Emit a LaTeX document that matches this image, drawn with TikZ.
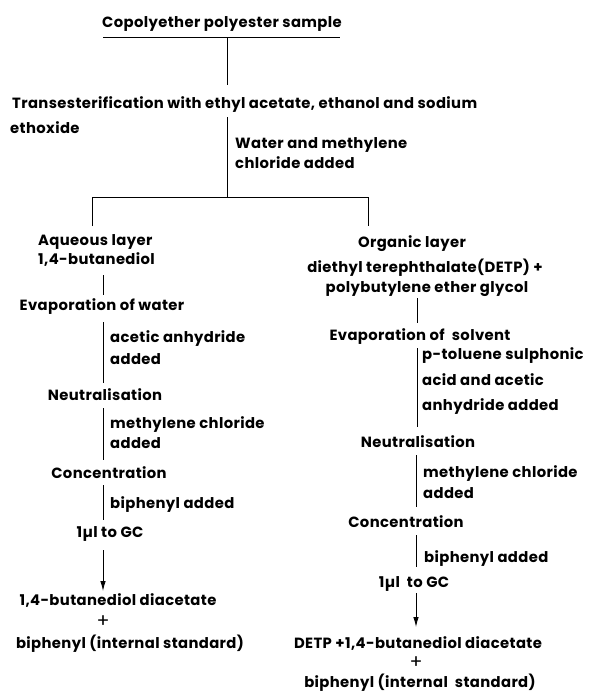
\documentclass[tikz,border=0pt]{standalone}
\usepackage{fontspec}
\setmainfont{Poppins}[LetterSpace=2.5]
\usetikzlibrary{arrows.meta}
\tikzset{
  lbl/.style={inner sep=0pt, yshift=-3pt, font=\fontsize{14.8}{17}\selectfont\bfseries},
  txt/.style={lbl, anchor=mid west},
  ctxt/.style={lbl, anchor=mid},
  plus/.style={inner sep=0pt, anchor=center, font=\fontsize{19}{20}\selectfont},
  link/.style={line width=0.9pt},
  arr/.style={line width=0.9pt, -{Latex[length=10pt,width=5.5pt]}}
}
\begin{document}
\begin{tikzpicture}[x=1pt,y=-1pt]
\useasboundingbox (0,0) rectangle (590,699);
% top
\node[ctxt] (title) at (222,22) {Copolyether polyester sample};
\node[txt] (trans1) at (12,103) {Transesterification with ethyl acetate, ethanol and sodium};
\node[txt] (trans2) at (10,128) {ethoxide};
\node[txt] (water1) at (235,143) {Water and methylene};
\node[txt] (water2) at (235,163) {chloride added};
\coordinate (ulL) at (103,37);
\coordinate (ulR) at (340,37);
\coordinate (t0) at (227,37);
\coordinate (t1) at (227,85);
\coordinate (t2) at (227,117);
\coordinate (split) at (227,197);
\coordinate (sL) at (92,197);
\coordinate (sR) at (368,197);
\coordinate (dL) at (92,226);
\coordinate (dR) at (368,226);
\draw[link] (ulL) -- (ulR);
\draw[link] (t0) -- (t1);
\draw[link] (t2) -- (split);
\draw[link] (dL) -- (sL) -- (sR) -- (dR);
% left column
\node[txt] (aq1) at (38,240) {Aqueous layer};
\node[txt] (aq2) at (38,259) {1,4-butanediol};
\node[ctxt] (evL) at (102,305) {Evaporation of water};
\node[txt] (ac1) at (110,337) {acetic anhydride};
\node[txt] (ac2) at (110,359) {added};
\node[ctxt] (neL) at (105,395) {Neutralisation};
\node[txt] (mcL1) at (110,423) {methylene chloride};
\node[txt] (mcL2) at (110,443) {added};
\node[ctxt] (coL) at (109,473) {Concentration};
\node[txt] (biL) at (110,503) {biphenyl added};
\node[ctxt] (gcL) at (110,532) {1µl to GC};
\node[ctxt] (prL1) at (118,600) {1,4-butanediol diacetate};
\node[plus] (plL) at (103,622) {+};
\node[ctxt] (prL2) at (130,643) {biphenyl (internal standard)};
\coordinate (L1a) at (103,275); \coordinate (L1b) at (103,295);
\coordinate (L2a) at (103,322); \coordinate (L2b) at (103,383);
\coordinate (L3a) at (103,408); \coordinate (L3b) at (103,460);
\coordinate (L4a) at (103,485); \coordinate (L4b) at (103,520);
\coordinate (L5a) at (103,550); \coordinate (L5b) at (103,591);
\draw[link] (L1a) -- (L1b);
\draw[link] (L2a) -- (L2b);
\draw[link] (L3a) -- (L3b);
\draw[link] (L4a) -- (L4b);
\draw[arr] (L5a) -- (L5b);
% right column
\node[ctxt] (or1) at (412,242) {Organic layer};
\node[ctxt] (or2) at (425,267) {diethyl terephthalate(DETP) +};
\node[ctxt] (or3) at (427,287) {polybutylene ether glycol};
\node[ctxt] (evR) at (420,335) {Evaporation of \ solvent};
\node[txt] (pt1) at (422,354) {p-toluene sulphonic};
\node[txt] (pt2) at (422,380) {acid and acetic};
\node[txt] (pt3) at (422,405) {anhydride added};
\node[ctxt] (neR) at (418,442) {Neutralisation};
\node[txt] (mcR1) at (423,472) {methylene chloride};
\node[txt] (mcR2) at (423,493) {added};
\node[ctxt] (coR) at (406,522) {Concentration};
\node[txt] (biR) at (424,557) {biphenyl added};
\node[ctxt] (gcR) at (414,582) {1µl \ to GC};
\node[ctxt] (prR1) at (418,643) {DETP +1,4-butanediol diacetate};
\node[plus] (plR) at (416,663) {+};
\node[ctxt] (prR2) at (420,682) {biphenyl (internal \ standard)};
\coordinate (R1a) at (417,298); \coordinate (R1b) at (417,323);
\coordinate (R2a) at (417,348); \coordinate (R2b) at (417,427);
\coordinate (R3a) at (416,455); \coordinate (R3b) at (416,507);
\coordinate (R4a) at (416,535); \coordinate (R4b) at (416,567);
\coordinate (R5a) at (416,593); \coordinate (R5b) at (416,627);
\draw[link] (R1a) -- (R1b);
\draw[link] (R2a) -- (R2b);
\draw[link] (R3a) -- (R3b);
\draw[link] (R4a) -- (R4b);
\draw[arr] (R5a) -- (R5b);
\end{tikzpicture}
\end{document}
